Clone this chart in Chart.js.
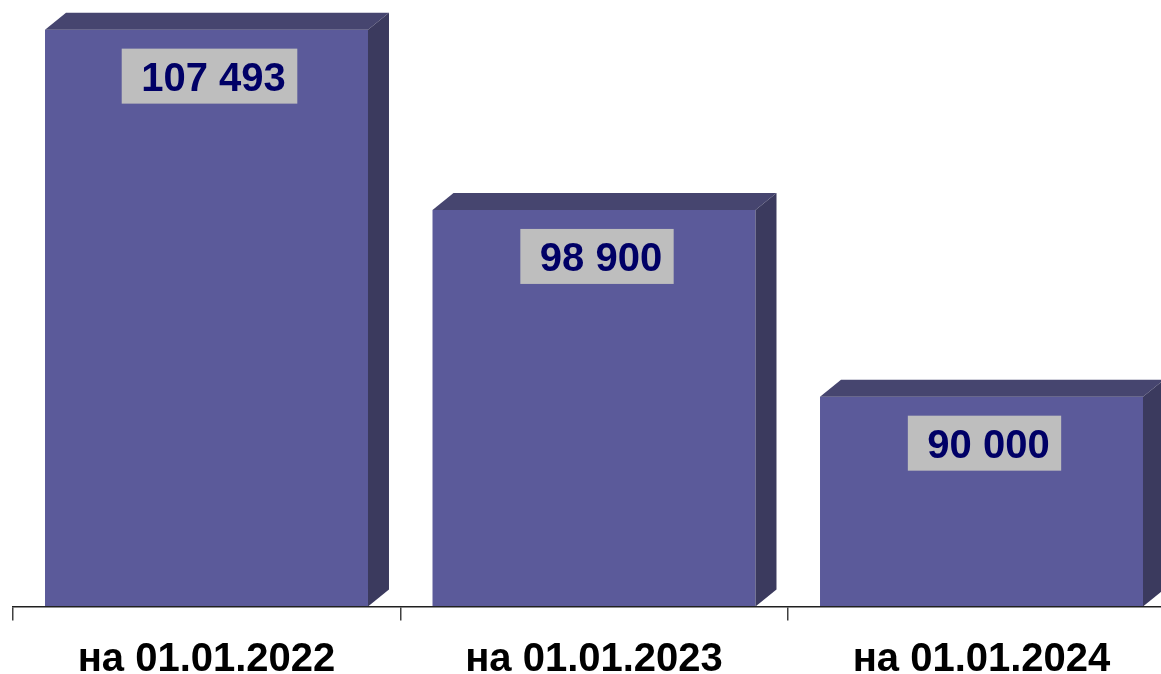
<!DOCTYPE html>
<html>
<head>
<meta charset="utf-8">
<script src="https://cdn.jsdelivr.net/npm/chart.js@4"></script>
<style>
html,body{margin:0;padding:0;background:#fff;overflow:hidden;}
#wrap{width:1190px;height:674px;}
</style>
</head>
<body>
<div id="wrap"><canvas id="c" width="1190" height="674"></canvas></div>
<script>
const categories = ["на 01.01.2022", "на 01.01.2023", "на 01.01.2024"];
const values = [107493, 98900, 90000];
const valueLabels = ["107 493", "98 900", "90 000"];

const FRONT = "#5b5a9a", TOP = "#46456f", SIDE = "#3b3a5e";
const DX = 21, DY = 17;

const bar3d = {
  id: "bar3d",
  afterDatasetsDraw(chart) {
    const ctx = chart.ctx;
    const meta = chart.getDatasetMeta(0);
    const B = chart.chartArea.bottom;
    meta.data.forEach((el, i) => {
      const p = el.getProps(["x", "y", "width"], true);
      const L = p.x - p.width / 2, R = p.x + p.width / 2, T = p.y;
      ctx.save();
      ctx.fillStyle = TOP;
      ctx.beginPath();
      ctx.moveTo(L, T); ctx.lineTo(L + DX, T - DY); ctx.lineTo(R + DX, T - DY); ctx.lineTo(R, T);
      ctx.closePath(); ctx.fill();
      ctx.fillStyle = SIDE;
      ctx.beginPath();
      ctx.moveTo(R, T); ctx.lineTo(R + DX, T - DY); ctx.lineTo(R + DX, B - DY); ctx.lineTo(R, B);
      ctx.closePath(); ctx.fill();
      // value label
      ctx.font = "bold 40px 'Liberation Sans', Arial, sans-serif";
      const txt = valueLabels[i];
      const w = ctx.measureText(txt).width;
      const bw = w + 31, bh = 55;
      const by = T + 19;
      const cx = p.x + 3;
      ctx.fillStyle = "#bebebe";
      ctx.fillRect(cx - bw / 2, by, bw, bh);
      ctx.fillStyle = "#000066";
      ctx.textAlign = "center";
      ctx.textBaseline = "alphabetic";
      ctx.fillText(txt, cx + 4, by + bh / 2 + 14.5);
      ctx.restore();
    });
  }
};

new Chart(document.getElementById("c"), {
  type: "bar",
  data: {
    labels: categories,
    datasets: [{
      data: values,
      backgroundColor: FRONT,
      borderWidth: 0,
      categoryPercentage: 1,
      barPercentage: 0.8335
    }]
  },
  options: {
    responsive: false,
    devicePixelRatio: 1,
    animation: false,
    layout: { padding: { left: 12.75, right: 14.75, top: 19, bottom: 0 } },
    plugins: { legend: { display: false }, tooltip: { enabled: false } },
    scales: {
      y: { display: false, min: 80000, max: 108000 },
      x: {
        offset: true,
        grid: { offset: true, drawOnChartArea: false, drawTicks: true, tickLength: 14, color: "#404040", lineWidth: 1.5, z: 1 },
        border: { display: true, color: "#202020", width: 1.5, z: 1 },
        ticks: { color: "#000", padding: 15, font: { family: "'Liberation Sans', Arial, sans-serif", size: 40, weight: "bold" }, maxRotation: 0 },
        afterFit(s) { s.height = 67.5; }
      }
    }
  },
  plugins: [bar3d]
});
</script>
</body>
</html>
